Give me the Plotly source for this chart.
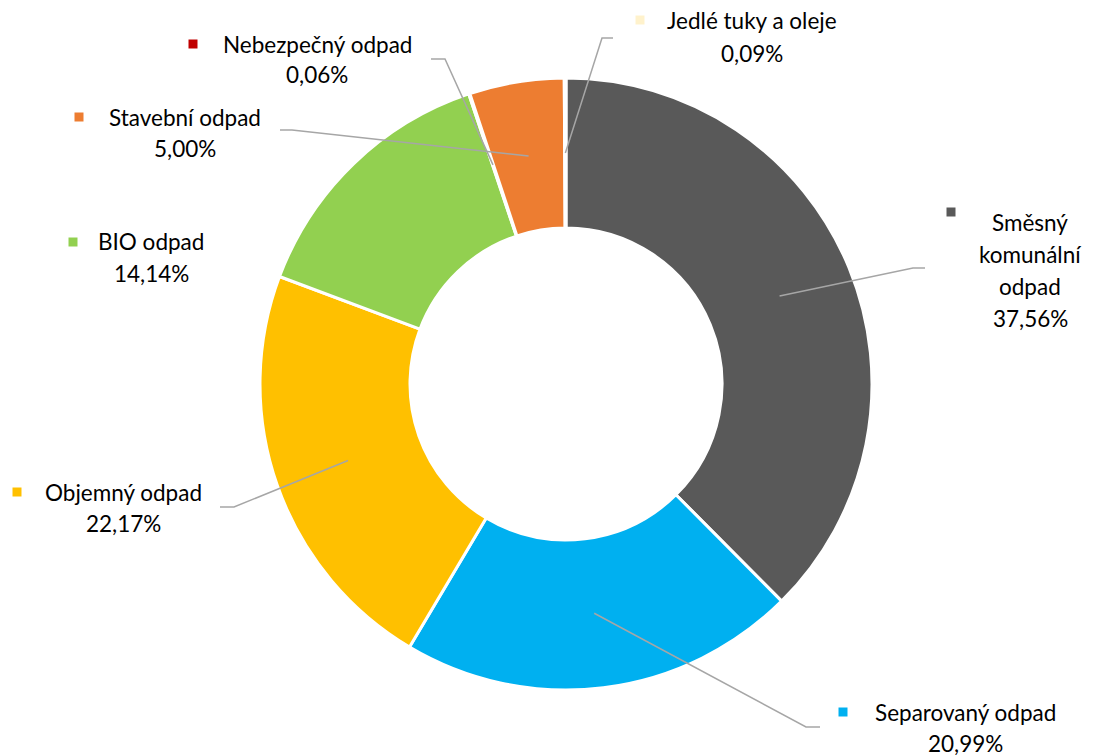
import math
import plotly.graph_objects as go

# Data
categories = ["Směsný komunální odpad", "Separovaný odpad", "Objemný odpad",
              "BIO odpad", "Nebezpečný odpad", "Stavební odpad", "Jedlé tuky a oleje"]
values = [37.56, 20.99, 22.17, 14.14, 0.06, 5.00, 0.09]
pct_labels = ["37,56%", "20,99%", "22,17%", "14,14%", "0,06%", "5,00%", "0,09%"]
colors = ["#595959", "#00B0F0", "#FFC000", "#92D050", "#C00000", "#ED7D31", "#FFF2CC"]

W, H = 1096, 755
CX, CY, R_OUT, R_IN = 566, 384, 306, 156
FONT = "Lato"
FS = 22.5
TXT = "#000000"

def px(x):
    return x / W

def py(y):
    return 1 - y / H

fig = go.Figure(go.Pie(
    labels=categories, values=values, sort=False, direction="clockwise",
    rotation=0, hole=R_IN / R_OUT, textinfo="none", hoverinfo="label+percent",
    marker=dict(colors=colors, line=dict(color="white", width=3)),
    domain=dict(x=[px(CX - R_OUT), px(CX + R_OUT)], y=[py(CY + R_OUT), py(CY - R_OUT)]),
    showlegend=False,
))

# label layout: marker position, name lines, centre x, first line y, line step, leader elbow
label_layout = {
    "Směsný komunální odpad": dict(mk=(951, 212), lines=["Směsný", "komunální", "odpad"], cx=1030, y0=222, dy=32,
                                   elbow=[(913, 268), (925, 268)]),
    "Separovaný odpad": dict(mk=(843, 712), lines=["Separovaný odpad"], cx=965, y0=712, dy=31,
                             elbow=[(806, 727), (820, 727)]),
    "Objemný odpad": dict(mk=(17, 492), lines=["Objemný odpad"], cx=123, y0=492, dy=31,
                          elbow=[(234, 507), (220, 507)]),
    "BIO odpad": dict(mk=(73, 242), lines=["BIO odpad"], cx=151, y0=242, dy=31, elbow=None),
    "Nebezpečný odpad": dict(mk=(193, 44), lines=["Nebezpečný odpad"], cx=317, y0=44, dy=31,
                             elbow=[(445, 59), (431, 59)]),
    "Stavební odpad": dict(mk=(79, 117), lines=["Stavební odpad"], cx=185, y0=117, dy=32,
                           elbow=[(292, 130), (280, 130)]),
    "Jedlé tuky a oleje": dict(mk=(640, 20), lines=["Jedlé tuky a oleje"], cx=752, y0=20, dy=33,
                               elbow=[(602, 38), (613, 38)]),
}

annotations = []
shapes = []
total = sum(values)
cum = 0.0
r_mid = (R_OUT + R_IN) / 2
for cat, v, pct, col in zip(categories, values, pct_labels, colors):
    mid = (cum + v / 2) / total * 2 * math.pi
    cum += v
    sx = CX + r_mid * math.sin(mid)
    sy = CY - r_mid * math.cos(mid)
    L = label_layout[cat]
    if L["elbow"]:
        pts = [(sx, sy)] + L["elbow"]
        path = "M " + " L ".join(f"{px(a):.5f},{py(b):.5f}" for a, b in pts)
        shapes.append(dict(type="path", xref="paper", yref="paper", path=path,
                           line=dict(color="#A6A6A6", width=1.5)))
    mx, my = L["mk"]
    shapes.append(dict(type="rect", xref="paper", yref="paper",
                       x0=px(mx - 4.5), x1=px(mx + 4.5), y0=py(my + 4.5), y1=py(my - 4.5),
                       fillcolor=col, line=dict(width=0)))
    lines = L["lines"] + [pct]
    for i, t in enumerate(lines):
        annotations.append(dict(
            x=px(L["cx"]), y=py(L["y0"] + i * L["dy"]), xref="paper", yref="paper",
            text=t, showarrow=False, xanchor="center", yanchor="middle",
            font=dict(family=FONT, size=FS, color=TXT)))

fig.update_layout(
    width=W, height=H, margin=dict(l=0, r=0, t=0, b=0),
    paper_bgcolor="white", plot_bgcolor="white",
    annotations=annotations, shapes=shapes,
)

fig.write_html("out.html", config={"displayModeBar": False},
               post_script="document.body.style.margin='0px';document.body.style.overflow='hidden';")
